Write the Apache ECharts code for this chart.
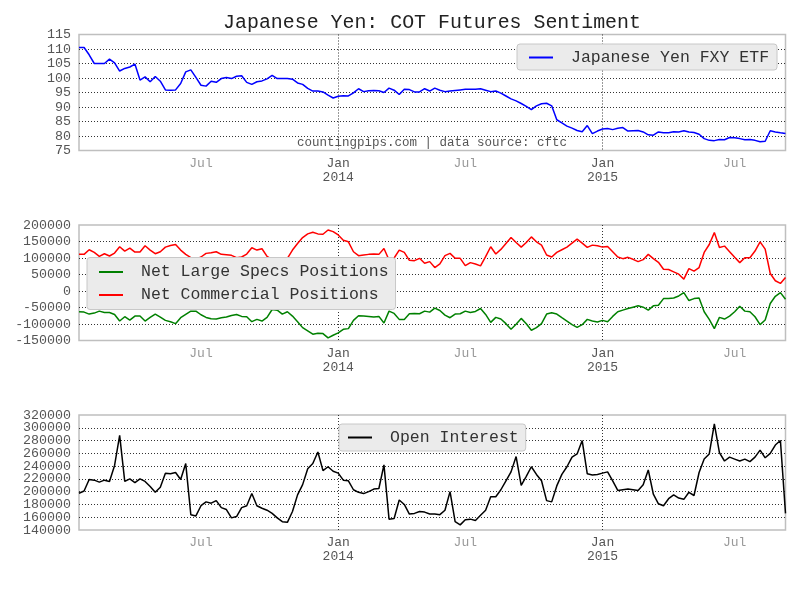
<!DOCTYPE html>
<html>
<head>
<meta charset="utf-8">
<script src="https://cdn.jsdelivr.net/npm/echarts@6/dist/echarts.min.js"></script>
<style>
html,body{margin:0;padding:0;background:#fff;}
#chart{width:800px;height:600px;}
</style>
</head>
<body>
<div id="chart"></div>
<script>
// ---- DATA ----
const startDate = '2013-01-08'; // first weekly COT report date in view
const fxyEtf = [110.5,110.5,108,105,105,105,106.5,105.2,102.4,103.3,103.8,104.8,99.3,100.4,98.7,100.5,98.9,95.9,95.8,95.9,
98.1,102.1,102.8,100.2,97.5,97.2,98.9,98.5,99.8,100.2,99.8,100.6,100.8,98.5,97.8,98.7,99.0,99.7,100.9,99.8,
99.8,99.8,99.6,98.3,97.8,96.4,95.5,95.5,95.2,94.1,93.1,93.7,93.9,93.8,94.9,96.3,95.3,95.6,95.7,95.6,
95.0,96.5,95.8,94.3,96.1,96.0,95.2,95.2,96.3,95.5,96.5,95.8,95.3,95.5,95.7,95.9,96.1,96.1,96.1,96.3,
95.8,95.3,95.5,94.8,93.8,92.8,92.1,91.2,90.2,89.1,90.4,91.1,91.3,90.4,85.6,84.5,83.4,82.7,81.9,81.5,
83.6,80.8,81.7,82.4,82.6,82.2,82.7,82.9,81.7,81.8,81.9,81.4,80.4,80.3,81.4,81.1,81.1,81.5,81.4,81.8,
81.4,81.2,80.6,79.1,78.5,78.4,78.8,78.7,79.5,79.4,79.1,78.7,78.8,78.5,78.0,78.2,81.8,81.4,81.1,80.9];

const netLargeSpecs = [-63,-64,-70,-67,-61,-65,-65,-71,-91,-78,-88,-76,-76,-91,-80,-70,-79,-89,-93,-99,
-81,-71,-61,-61,-72,-80,-84,-85,-81,-79,-74,-71,-77,-78,-93,-86,-91,-80,-56,-58,
-70,-63,-76,-93,-111,-121,-131,-128,-129,-142,-134,-127,-116,-114,-89,-75,-76,-77,-79,-77,
-97,-61,-68,-86,-86,-69,-68,-69,-61,-64,-52,-59,-73,-81,-70,-69,-61,-65,-62,-53,
-71,-95,-80,-85,-99,-116,-101,-83,-99,-119,-111,-99,-70,-66,-70,-81,-91,-102,-110,-102,
-86,-91,-94,-89,-93,-77,-63,-58,-53,-49,-45,-49,-58,-45,-43,-23,-23,-21,-15,-5,
-29,-23,-21,-63,-86,-114,-80,-85,-76,-63,-46,-61,-63,-78,-102,-88,-38,-16,-5,-25].map(v => v * 1000);

const netCommercial = [111,111,125,117,105,113,106,115,134,121,130,118,118,137,124,113,119,133,138,141,
124,111,101,96,103,114,116,119,111,110,108,101,103,112,131,124,128,105,95,90,
92,99,124,144,162,173,178,173,172,185,180,170,154,149,119,107,109,111,112,111,
129,94,100,124,117,93,92,99,84,89,71,82,107,114,99,99,77,86,82,76,
104,134,112,126,144,162,147,133,147,164,149,139,109,103,117,125,133,145,157,145,
132,139,137,133,135,119,103,98,102,96,89,95,111,98,87,66,65,58,51,36,
68,60,71,117,141,177,132,136,119,102,86,101,101,121,149,127,53,31,23,41].map(v => v * 1000);

const openInterest = [197.5,201,219,218,215,218,216,241,288,216,220,214,220,216,208,199,207,229,228,230,
219,244,164,162,178,184,182,186,175,172,159,161,175,178,197,178,174,171,166,159,
153,152,169,195,211,236,244,262,233,239,232,229,218,217,203,199,197,200,204,205,
242,157,158,187,180,165,166,169,168,165,165,164,171,200,153,148,156,157,155,163,
171,192,192,203,217,231,255,210,224,239,227,217,186,184,209,227,239,254,259,280,
228,226,227,229,231,217,202,203,204,203,202,211,234,196,181,178,189,195,190,188,
199,194,230,251,259,306,261,248,254,251,248,251,247,254,265,253,260,273,280,166].map(v => v * 1000);

const tickDates  = ['2013-06-25', '2013-12-31', '2014-06-24', '2014-12-30', '2015-06-30'];
const tickLabels = ['Jul', 'Jan\n2014', 'Jul', 'Jan\n2015', 'Jul'];

// weekly category dates
const dates = [];
(function () {
  const t0 = Date.parse(startDate + 'T00:00:00Z');
  for (let i = 0; i < fxyEtf.length; i++) {
    dates.push(new Date(t0 + i * 7 * 86400000).toISOString().slice(0, 10));
  }
})();

// ---- CHART ----
const FONT = '"Liberation Mono", "DejaVu Sans Mono", monospace';
const chart = echarts.init(document.getElementById('chart'), null, {renderer: 'canvas'});

const gridDefs = [
  {left: 79, right: 14.5, top: 34.5, height: 116},
  {left: 79, right: 14.5, top: 225, height: 115.5},
  {left: 79, right: 14.5, top: 415, height: 115}
];

function xAxisFor(gi) {
  return {
    type: 'category', gridIndex: gi, data: dates, boundaryGap: false,
    axisLine: {show: false}, axisTick: {show: false},
    axisLabel: {
      interval: (idx, val) => tickDates.indexOf(val) >= 0,
      hideOverlap: false,
      margin: 6, fontFamily: FONT, fontSize: 13, lineHeight: 14,
      formatter: (val) => {
        const k = tickDates.indexOf(val);
        if (k < 0) return '';
        const lab = tickLabels[k];
        if (lab.indexOf('\n') >= 0) {
          return lab.split('\n').map(s => '{maj|' + s + '}').join('\n');
        }
        return '{min|' + lab + '}';
      },
      rich: {
        maj: {color: '#555', fontFamily: FONT, fontSize: 13, lineHeight: 14},
        min: {color: '#999', fontFamily: FONT, fontSize: 13, lineHeight: 14}
      }
    },
    splitLine: {
      show: true,
      interval: (idx, val) => { const k = tickDates.indexOf(val); return k >= 0 && tickLabels[k].indexOf('\n') >= 0; },
      lineStyle: {color: '#333', width: 1, type: [1, 2]}
    }
  };
}

function splitColors(n) {
  const arr = [];
  for (let i = 0; i < n; i++) arr.push(i === 0 || i === n - 1 ? 'rgba(0,0,0,0)' : '#333');
  return arr;
}

const yLabelBase = {margin: 8, fontFamily: FONT, fontSize: 13.3, color: '#555', formatter: (v) => String(v)};

function yAxisFor(gi, min, max, interval, edgeLabels) {
  const n = Math.round((max - min) / interval) + 1;
  return {
    type: 'value', gridIndex: gi, min: min, max: max, interval: interval,
    axisLine: {show: false}, axisTick: {show: false},
    axisLabel: Object.assign({}, yLabelBase, {showMinLabel: edgeLabels, showMaxLabel: edgeLabels}),
    splitLine: {show: true, lineStyle: {color: splitColors(n), width: 1, type: [1, 2]}}
  };
}

// companion axis carrying only the end labels of a densely ticked axis
function yEdgeAxisFor(gi, min, max) {
  return {
    type: 'value', gridIndex: gi, min: min, max: max, interval: max - min, position: 'left',
    axisLine: {show: false}, axisTick: {show: false}, splitLine: {show: false},
    axisLabel: Object.assign({}, yLabelBase, {showMinLabel: true, showMaxLabel: true})
  };
}

const legendBase = {
  selectedMode: false, icon: 'rect', itemWidth: 24, itemHeight: 2,
  backgroundColor: '#ebebeb', borderColor: '#c8c8c8', borderWidth: 1, borderRadius: 3,
  orient: 'vertical', itemGap: 6,
  textStyle: {fontFamily: FONT, fontSize: 16.5, color: '#333', padding: [0, 0, 0, 13]}
};

const option = {
  animation: false,
  backgroundColor: '#fff',
  grid: gridDefs.map(g => Object.assign({show: true, borderColor: '#bfbfbf', borderWidth: 1.5, backgroundColor: '#fff'}, g)),
  xAxis: [xAxisFor(0), xAxisFor(1), xAxisFor(2)],
  yAxis: [
    yAxisFor(0, 75, 115, 5, true),
    yAxisFor(1, -150000, 200000, 50000, true),
    yAxisFor(2, 140000, 320000, 20000, false),
    yEdgeAxisFor(2, 140000, 320000)
  ],
  legend: [
    Object.assign({}, legendBase, {data: ['Japanese Yen FXY ETF'], left: 517, top: 44, padding: [5, 8, 4, 12]}),
    Object.assign({}, legendBase, {data: ['Net Large Specs Positions', 'Net Commercial Positions'], left: 87, top: 257.5, padding: [6, 7, 6, 12]}),
    Object.assign({}, legendBase, {data: ['Open Interest'], left: 339, top: 424, padding: [5, 7, 5, 9]})
  ],
  graphic: [
    {type: 'text', x: 432, y: 22.5, style: {text: 'Japanese Yen: COT Futures Sentiment', font: '19.9px ' + FONT, fill: '#222', textAlign: 'center', textVerticalAlign: 'middle'}},
    {type: 'text', x: 432, y: 142.5, z: 10, style: {text: 'countingpips.com | data source: cftc', font: '12.5px ' + FONT, fill: '#555', textAlign: 'center', textVerticalAlign: 'middle'}}
  ],
  series: [
    {name: 'Japanese Yen FXY ETF', type: 'line', xAxisIndex: 0, yAxisIndex: 0, data: fxyEtf, showSymbol: false, symbol: 'none', color: '#0000ff', lineStyle: {width: 1.5, color: '#0000ff'}},
    {name: 'Net Large Specs Positions', type: 'line', xAxisIndex: 1, yAxisIndex: 1, data: netLargeSpecs, showSymbol: false, symbol: 'none', color: '#008000', lineStyle: {width: 1.5, color: '#008000'}},
    {name: 'Net Commercial Positions', type: 'line', xAxisIndex: 1, yAxisIndex: 1, data: netCommercial, showSymbol: false, symbol: 'none', color: '#ff0000', lineStyle: {width: 1.5, color: '#ff0000'}},
    {name: 'Open Interest', type: 'line', xAxisIndex: 2, yAxisIndex: 2, data: openInterest, showSymbol: false, symbol: 'none', color: '#000000', lineStyle: {width: 1.5, color: '#000000'}}
  ]
};
chart.setOption(option);
</script>
</body>
</html>
